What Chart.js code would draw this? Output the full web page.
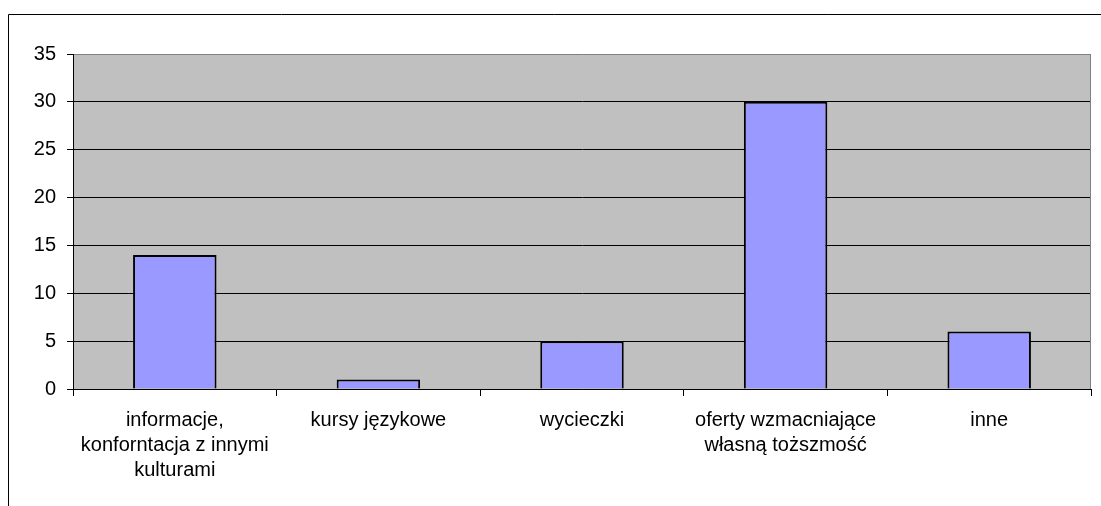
<!DOCTYPE html>
<html>
<head>
<meta charset="utf-8">
<script src="https://cdn.jsdelivr.net/npm/chart.js@4/dist/chart.umd.min.js"></script>
<style>
  body { margin: 0; background: #fff; }
  canvas { display: block; }
</style>
</head>
<body>
<canvas id="chart" width="1101" height="506"></canvas>
<script>
const categories = [
    ["informacje,", "konforntacja z innymi", "kulturami"],
    "kursy językowe",
    "wycieczki",
    ["oferty wzmacniające", "własną toższmość"],
    "inne"
];
const values = [14, 1, 5, 30, 6];
const yMin = 0;
const yMax = 35;
const yStep = 5;

// gray plot background, gray top/right edges, and the outer frame
const framePlugin = {
    id: "frame",
    beforeDraw(chart) {
        const c = chart.ctx;
        const a = chart.chartArea;
        c.save();
        c.fillStyle = "#fff";
        c.fillRect(0, 0, chart.width, chart.height);
        c.fillStyle = "#c0c0c0";
        c.fillRect(a.left, a.top, a.right - a.left, a.bottom - a.top);
        c.strokeStyle = "#000";
        c.lineWidth = 1;
        c.beginPath();
        c.moveTo(8.5, chart.height);
        c.lineTo(8.5, 14.5);
        c.lineTo(chart.width, 14.5);
        c.stroke();
        c.restore();
    },
    afterDatasetsDraw(chart) {
        const c = chart.ctx;
        const a = chart.chartArea;
        c.save();
        c.strokeStyle = "#808080";
        c.lineWidth = 1;
        c.beginPath();
        c.moveTo(a.right - 0.5, a.bottom);
        c.lineTo(a.right - 0.5, a.top + 0.5);
        c.stroke();
        c.restore();
    }
};

new Chart(document.getElementById("chart"), {
    type: "bar",
    data: {
        labels: categories,
        datasets: [{
            data: values,
            backgroundColor: "#9999ff",
            borderColor: "#000",
            borderWidth: 2,
            borderSkipped: "bottom",
            barPercentage: 0.41,
            categoryPercentage: 1
        }]
    },
    options: {
        responsive: false,
        animation: false,
        layout: { padding: { left: 0, top: 54, right: 10, bottom: 0 } },
        plugins: {
            legend: { display: false },
            tooltip: { enabled: false }
        },
        scales: {
            x: {
                grid: {
                    offset: true,
                    drawOnChartArea: false,
                    color: "#000",
                    tickLength: 7
                },
                border: { display: true, color: "#000", width: 1 },
                ticks: {
                    color: "#000",
                    font: { family: "Liberation Sans, Arial", size: 20, lineHeight: 1.25 },
                    padding: 12,
                    maxRotation: 0,
                    autoSkip: false
                },
                afterFit(scale) { scale.height = 117; }
            },
            y: {
                min: yMin,
                max: yMax,
                grid: {
                    color: ctx => ctx.tick && ctx.tick.value === yMax ? "#808080" : "#000",
                    tickColor: "#000",
                    tickLength: 6
                },
                border: { display: true, color: "#000", width: 1 },
                ticks: {
                    stepSize: yStep,
                    color: "#000",
                    font: { family: "Liberation Sans, Arial", size: 20 },
                    padding: 11
                },
                afterFit(scale) { scale.width = 73; }
            }
        }
    },
    plugins: [framePlugin]
});
</script>
</body>
</html>
